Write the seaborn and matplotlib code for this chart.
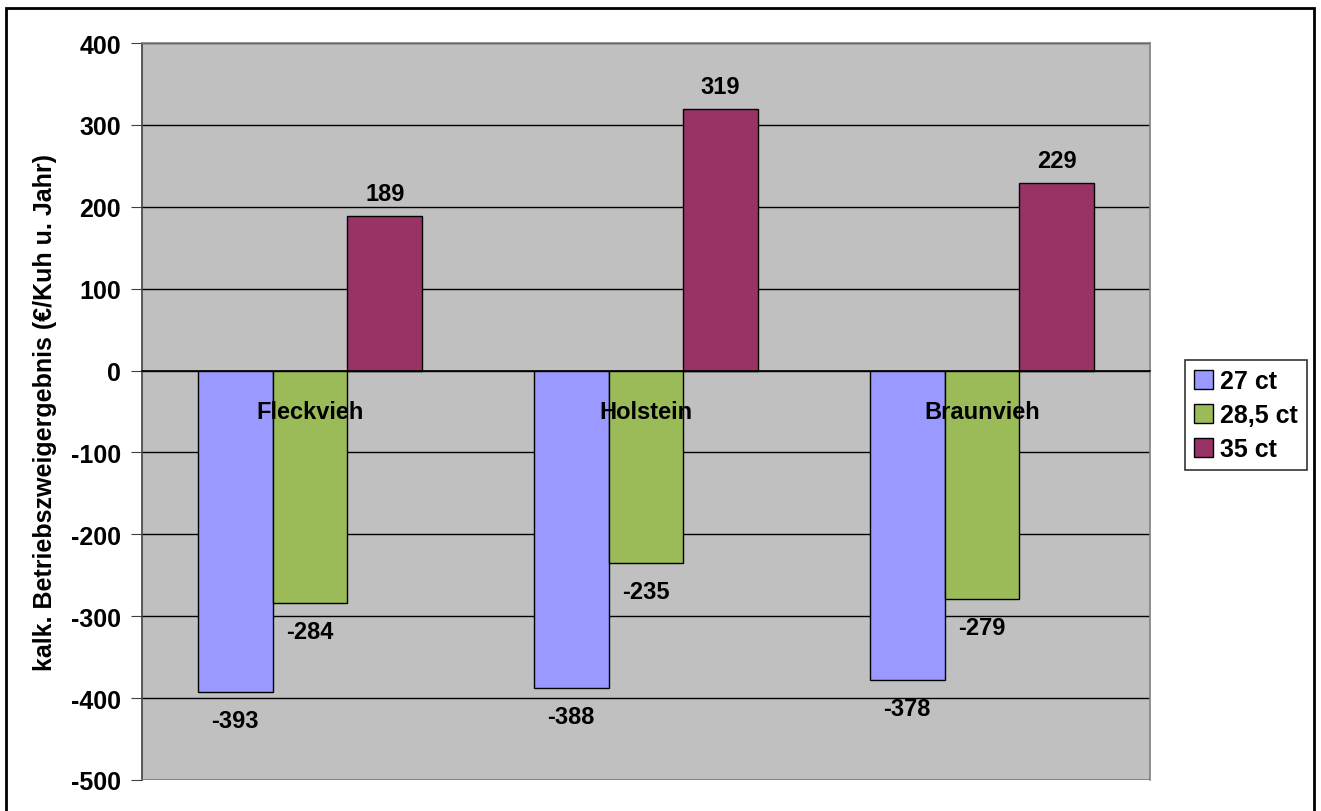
import pandas as pd
import matplotlib
matplotlib.use("Agg")
import matplotlib.pyplot as plt
import matplotlib.patches as mpatches
import seaborn as sns

# data
rassen = ["Fleckvieh", "Holstein", "Braunvieh"]
preise = ["27 ct", "28,5 ct", "35 ct"]
werte_27 = [-393, -388, -378]
werte_285 = [-284, -235, -279]
werte_35 = [189, 319, 229]
farben = ["#9999FF", "#9BBB59", "#993366"]
yticks = [-500, -400, -300, -200, -100, 0, 100, 200, 300, 400]

df = pd.DataFrame({
    "Rasse": rassen * 3,
    "Preis": [p for p in preise for _ in rassen],
    "Ergebnis": werte_27 + werte_285 + werte_35,
})

sns.set_style("white")
plt.rcParams["font.family"] = ["Liberation Sans", "DejaVu Sans"]
plt.rcParams["font.weight"] = "bold"
plt.rcParams["text.color"] = "black"
plt.rcParams["xtick.color"] = "black"
plt.rcParams["ytick.color"] = "black"
plt.rcParams["axes.labelcolor"] = "black"
plt.rcParams["axes.unicode_minus"] = False

fig = plt.figure(figsize=(13.21, 8.12), dpi=100)
ax = fig.add_axes([0.1075, 0.0382, 0.7630, 0.9076])
ax.set_facecolor("#C0C0C0")

sns.barplot(data=df, x="Rasse", y="Ergebnis", hue="Preis", order=rassen,
            hue_order=preise, palette=farben, width=0.667, gap=0,
            edgecolor="black", linewidth=1, saturation=1, ax=ax)

# horizontal gridlines behind the bars
for t in yticks:
    ax.axhline(t, color="black", linewidth=1, zorder=0.5)

for c in ax.containers:
    neg = c.datavalues[0] < 0
    ax.bar_label(c, fmt="%d", padding=12 if neg else 8, fontsize=17, fontweight="bold")

ax.set_ylim(-500, 400)
ax.set_xlim(-0.5, 2.5)
ax.set_yticks(yticks)
ax.tick_params(axis="y", labelsize=18, length=8, pad=7, color="#404040",
               direction="out", left=True)
for lbl in ax.get_yticklabels():
    lbl.set_fontweight("bold")

# category axis through zero, like the original
ax.spines["bottom"].set_position(("data", 0))
ax.spines["bottom"].set_color("black")
ax.spines["left"].set_color("#404040")
ax.spines["top"].set_color("#808080")
ax.spines["right"].set_color("#808080")
for s in ax.spines.values():
    s.set_linewidth(1.2)
ax.xaxis.set_zorder(5)
ax.tick_params(axis="x", length=0, pad=21, labelsize=17)
for lbl in ax.get_xticklabels():
    lbl.set_fontweight("bold")
ax.set_xticks([0.5, 1.5], minor=True)
ax.tick_params(axis="x", which="minor", length=5, color="black", direction="out")
ax.axhline(-500, color="#808080", linewidth=2, zorder=3)

ax.set_xlabel("")
ax.set_ylabel("kalk. Betriebszweigergebnis (€/Kuh u. Jahr)", fontsize=18,
              fontweight="bold", labelpad=10)

leg = ax.legend(loc="center left", bbox_to_anchor=(1.035, 0.495), fontsize=18,
                frameon=True, fancybox=False, edgecolor="black",
                handlelength=0.75, handleheight=0.75, handletextpad=0.3,
                labelspacing=0.4, borderpad=0.35, borderaxespad=0)
leg.get_frame().set_linewidth(1.2)
for txt in leg.get_texts():
    txt.set_fontweight("bold")

# outer chart border
fig.patches.append(mpatches.Rectangle((0.0045, -0.01), 0.9905, 0.9990,
                                      transform=fig.transFigure, fill=False,
                                      edgecolor="black", linewidth=2))

fig.savefig("out.png", dpi=100)
